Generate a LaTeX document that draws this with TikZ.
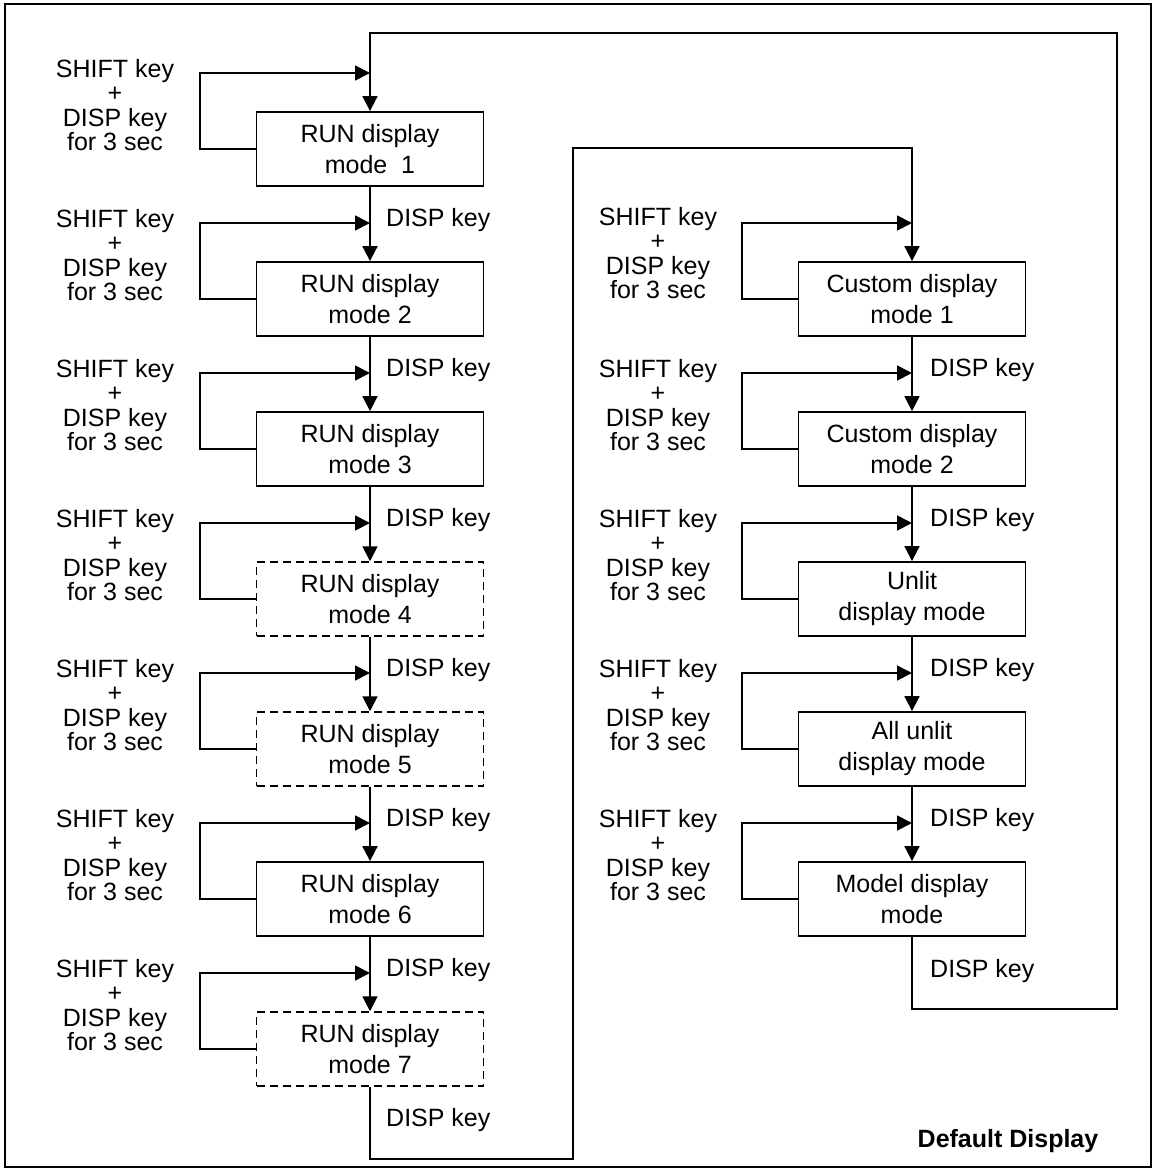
\documentclass[tikz,border=0pt]{standalone}
\usepackage{fontspec}
\setmainfont{Liberation Sans}
\usetikzlibrary{arrows.meta}

\begin{document}
\begin{tikzpicture}[x=1pt, y=-1pt,
    modebox/.style={draw, line width=1.8pt, minimum width=227pt, minimum height=74pt,
        align=center, inner sep=0pt, font=\fontsize{25}{31}\selectfont},
    dashbox/.style={modebox, line width=1.5pt, dash pattern=on 8pt off 5pt},
    keylabel/.style={align=center, inner sep=0pt, font=\fontsize{25}{24.5}\selectfont},
    displabel/.style={anchor=west, inner sep=0pt, font=\fontsize{25}{30}\selectfont},
    wire/.style={line width=1.8pt},
    flow/.style={wire, -{Triangle[length=15pt,width=15pt]}}]

    % Fix the page size
    \useasboundingbox (0,0) rectangle (1156,1171);

    % Draw the outer frame
    \draw[line width=2pt] (5,4) rectangle (1151,1167);

    % Define the RUN display boxes (left column)
    \node[modebox] (run1) at (370,149) {RUN display\\mode\ \ 1};
    \node[modebox] (run2) at (370,299) {RUN display\\mode 2};
    \node[modebox] (run3) at (370,449) {RUN display\\mode 3};
    \node[dashbox] (run4) at (370,599) {RUN display\\mode 4};
    \node[dashbox] (run5) at (370,749) {RUN display\\mode 5};
    \node[modebox] (run6) at (370,899) {RUN display\\mode 6};
    \node[dashbox] (run7) at (370,1049) {RUN display\\mode 7};

    % Define the other display boxes (right column)
    \node[modebox] (cust1) at (912,299) {Custom display\\mode 1};
    \node[modebox] (cust2) at (912,449) {Custom display\\mode 2};
    \node[modebox] (unlit) at (912,599) {Unlit\\display mode};
    \node[modebox] (allunlit) at (912,749) {All unlit\\display mode};
    \node[modebox] (model) at (912,899) {Model display\\mode};

    % Define the points where the SHIFT loops join the flow
    \coordinate (j1) at (370,73);
    \coordinate (j2) at (370,223);
    \coordinate (j3) at (370,373);
    \coordinate (j4) at (370,523);
    \coordinate (j5) at (370,673);
    \coordinate (j6) at (370,823);
    \coordinate (j7) at (370,973);
    \coordinate (k1) at (912,223);
    \coordinate (k2) at (912,373);
    \coordinate (k3) at (912,523);
    \coordinate (k4) at (912,673);
    \coordinate (k5) at (912,823);

    % Define the corners of the two return lines
    \coordinate (bendL) at (573,1159);
    \coordinate (topM) at (573,148);
    \coordinate (bendR) at (1117,1009);
    \coordinate (topR) at (1117,33);
    \coordinate (topL) at (370,33);

    % Draw the DISP key flow down each column
    \draw[flow] (run1) -- (run2);
    \draw[flow] (run2) -- (run3);
    \draw[flow] (run3) -- (run4);
    \draw[flow] (run4) -- (run5);
    \draw[flow] (run5) -- (run6);
    \draw[flow] (run6) -- (run7);
    \draw[flow] (cust1) -- (cust2);
    \draw[flow] (cust2) -- (unlit);
    \draw[flow] (unlit) -- (allunlit);
    \draw[flow] (allunlit) -- (model);

    % Draw the return lines
    \draw[flow] (run7.south) |- (bendL) -- (topM) -| (cust1.north);
    \draw[flow] (model.south) |- (bendR) -- (topR) -- (topL) -- (run1.north);

    % Draw the SHIFT + DISP loops
    \draw[flow] (run1.west) -- ++(-56,0) |- (j1);
    \draw[flow] (run2.west) -- ++(-56,0) |- (j2);
    \draw[flow] (run3.west) -- ++(-56,0) |- (j3);
    \draw[flow] (run4.west) -- ++(-56,0) |- (j4);
    \draw[flow] (run5.west) -- ++(-56,0) |- (j5);
    \draw[flow] (run6.west) -- ++(-56,0) |- (j6);
    \draw[flow] (run7.west) -- ++(-56,0) |- (j7);
    \draw[flow] (cust1.west) -- ++(-56,0) |- (k1);
    \draw[flow] (cust2.west) -- ++(-56,0) |- (k2);
    \draw[flow] (unlit.west) -- ++(-56,0) |- (k3);
    \draw[flow] (allunlit.west) -- ++(-56,0) |- (k4);
    \draw[flow] (model.west) -- ++(-56,0) |- (k5);

    % Place the SHIFT + DISP labels
    \node[keylabel] (s1) at (115,105) {SHIFT key\\+\\DISP key\\for 3 sec};
    \node[keylabel] (s2) at (115,255) {SHIFT key\\+\\DISP key\\for 3 sec};
    \node[keylabel] (s3) at (115,405) {SHIFT key\\+\\DISP key\\for 3 sec};
    \node[keylabel] (s4) at (115,555) {SHIFT key\\+\\DISP key\\for 3 sec};
    \node[keylabel] (s5) at (115,705) {SHIFT key\\+\\DISP key\\for 3 sec};
    \node[keylabel] (s6) at (115,855) {SHIFT key\\+\\DISP key\\for 3 sec};
    \node[keylabel] (s7) at (115,1005) {SHIFT key\\+\\DISP key\\for 3 sec};
    \node[keylabel] (t1) at (658,253) {SHIFT key\\+\\DISP key\\for 3 sec};
    \node[keylabel] (t2) at (658,405) {SHIFT key\\+\\DISP key\\for 3 sec};
    \node[keylabel] (t3) at (658,555) {SHIFT key\\+\\DISP key\\for 3 sec};
    \node[keylabel] (t4) at (658,705) {SHIFT key\\+\\DISP key\\for 3 sec};
    \node[keylabel] (t5) at (658,855) {SHIFT key\\+\\DISP key\\for 3 sec};

    % Place the DISP key labels
    \node[displabel] (d2) at (386,220) {DISP key};
    \node[displabel] (d3) at (386,370) {DISP key};
    \node[displabel] (d4) at (386,520) {DISP key};
    \node[displabel] (d5) at (386,670) {DISP key};
    \node[displabel] (d6) at (386,820) {DISP key};
    \node[displabel] (d7) at (386,970) {DISP key};
    \node[displabel] (d8) at (386,1120) {DISP key};
    \node[displabel] (e2) at (930,370) {DISP key};
    \node[displabel] (e3) at (930,520) {DISP key};
    \node[displabel] (e4) at (930,670) {DISP key};
    \node[displabel] (e5) at (930,820) {DISP key};
    \node[displabel] (e6) at (930,971) {DISP key};

    % Place the title
    \node[font=\fontsize{25}{30}\selectfont\bfseries, inner sep=0pt] (title) at (1008,1141) {Default Display};

\end{tikzpicture}
\end{document}
